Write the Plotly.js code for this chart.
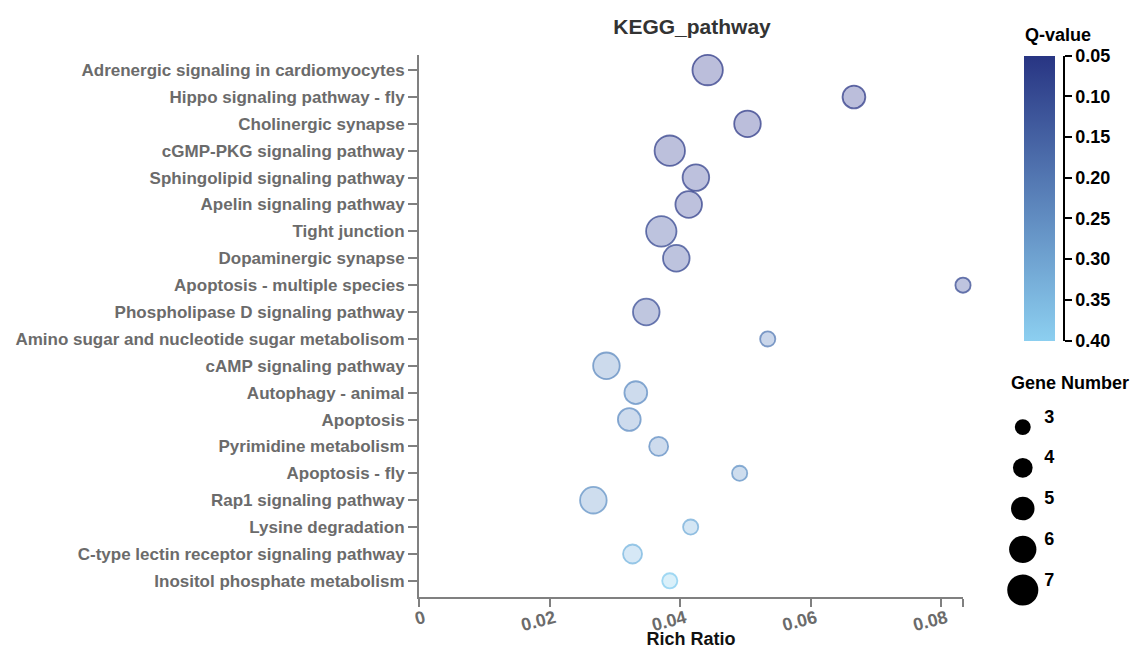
<!DOCTYPE html>
<html>
<head>
<meta charset="utf-8">
<script src="https://cdn.plot.ly/plotly-3.0.1.min.js"></script>
<style>html,body{margin:0;padding:0;background:#fff;}#chart{width:1134px;height:649px;}</style>
</head>
<body>
<div id="chart"></div>
<script>
const categories = [
  "Adrenergic signaling in cardiomyocytes",
  "Hippo signaling pathway - fly",
  "Cholinergic synapse",
  "cGMP-PKG signaling pathway",
  "Sphingolipid signaling pathway",
  "Apelin signaling pathway",
  "Tight junction",
  "Dopaminergic synapse",
  "Apoptosis - multiple species",
  "Phospholipase D signaling pathway",
  "Amino sugar and nucleotide sugar metabolisom",
  "cAMP signaling pathway",
  "Autophagy - animal",
  "Apoptosis",
  "Pyrimidine metabolism",
  "Apoptosis - fly",
  "Rap1 signaling pathway",
  "Lysine degradation",
  "C-type lectin receptor signaling pathway",
  "Inositol phosphate metabolism"
];
const richRatio = [0.0442, 0.0666, 0.0503, 0.0384, 0.0424, 0.0413, 0.0371, 0.0394, 0.0833, 0.0348,
                   0.0534, 0.0287, 0.0332, 0.0322, 0.0367, 0.0491, 0.0267, 0.0416, 0.0327, 0.0384];
const geneNumber = [7, 5, 6, 7, 6, 6, 7, 6, 3, 6, 3, 6, 5, 5, 4, 3, 6, 3, 4, 3];
const qValue = [0.06, 0.06, 0.06, 0.07, 0.08, 0.08, 0.09, 0.09, 0.10, 0.11,
                0.22, 0.25, 0.26, 0.26, 0.26, 0.27, 0.27, 0.33, 0.35, 0.40];

const xRangeMax = 0.0833;
const xTickVals = [0, 0.02, 0.04, 0.06, 0.08, xRangeMax];
const xTickText = ["0", "0.02", "0.04", "0.06", "0.08", ""];
const qTickVals = [0.05, 0.10, 0.15, 0.20, 0.25, 0.30, 0.35, 0.40];
const qTickText = ["0.05", "0.10", "0.15", "0.20", "0.25", "0.30", "0.35", "0.40"];
const geneLegend = [3, 4, 5, 6, 7];

const qMin = 0.05, qMax = 0.40;
const W = 1134, H = 649;
const px = v => v / W;
const py = v => (H - v) / H;

const FONT = "Liberation Sans, Arial, Helvetica, sans-serif";
const GRAY = "#6b6b6b";

function sizeOf(n) { return 3.8 * n + 3.8; }
function legendSizeOf(n) { return 3.8 * n + 4.5; }

const mainTrace = {
  type: "scatter",
  mode: "markers",
  x: richRatio,
  y: categories,
  cliponaxis: false,
  hoverinfo: "x+y+text",
  text: geneNumber.map((g, i) => "Gene Number: " + g + "<br>Q-value: " + qValue[i]),
  marker: {
    opacity: 1,
    size: geneNumber.map(sizeOf),
    sizemode: "diameter",
    color: qValue,
    cmin: qMin, cmax: qMax,
    colorscale: [[0, "rgba(40,50,140,0.32)"], [1, "rgba(140,207,240,0.32)"]],
    showscale: false,
    line: {
      width: 1.8,
      color: qValue,
      cmin: qMin, cmax: qMax,
      colorscale: [[0, "rgba(40,50,130,0.72)"], [1, "rgba(140,207,240,0.8)"]]
    }
  },
  showlegend: false
};

// colour bar (same Q-value range, darkest at the top)
const colorbarTrace = {
  type: "scatter",
  mode: "markers",
  x: [null, null],
  y: [null, null],
  xaxis: "x2", yaxis: "y2",
  hoverinfo: "skip",
  showlegend: false,
  marker: {
    color: [-qMax, -qMin],
    cmin: -qMax, cmax: -qMin,
    colorscale: [[0, "rgb(140,207,240)"], [1, "rgb(40,53,131)"]],
    showscale: true,
    colorbar: {
      x: px(1024), xanchor: "left", xpad: 0,
      y: py(55.5), yanchor: "top", ypad: 0,
      len: 285, lenmode: "pixels",
      thickness: 31,
      outlinewidth: 0,
      ticks: "", showticklabels: false
    }
  }
};

const legendCircles = {
  type: "scatter",
  mode: "markers",
  x: geneLegend.map(() => 0.17),
  y: geneLegend,
  xaxis: "x3", yaxis: "y3",
  hoverinfo: "skip",
  showlegend: false,
  cliponaxis: false,
  marker: { opacity: 1, size: geneLegend.map(legendSizeOf), color: "rgb(0,0,0)", line: { width: 0 } }
};
const legendLabels = {
  type: "scatter",
  mode: "text",
  x: geneLegend.map(() => 0.33),
  y: geneLegend,
  text: geneLegend.map(String),
  textposition: "top right",
  xaxis: "x3", yaxis: "y3",
  hoverinfo: "skip",
  showlegend: false,
  cliponaxis: false,
  textfont: { family: FONT, size: 18, color: "#000000", weight: "bold" }
};

const layout = {
  width: W, height: H,
  margin: { l: 0, r: 0, t: 0, b: 0 },
  paper_bgcolor: "#ffffff",
  plot_bgcolor: "#ffffff",
  font: { family: FONT },
  title: {
    text: "KEGG_pathway",
    x: px(692), xanchor: "center", xref: "paper",
    y: py(27), yanchor: "middle", yref: "paper",
    font: { family: FONT, size: 21, color: "#333333", weight: "bold" }
  },
  xaxis: {
    domain: [px(419), px(963)],
    range: [0, xRangeMax],
    tickmode: "array",
    tickvals: xTickVals, ticktext: xTickText,
    tickangle: -15,
    ticklabelshift: 5,
    ticklabelstandoff: -6,
    ticks: "outside", ticklen: 8, tickwidth: 1.5, tickcolor: "#808080",
    showline: true, linecolor: "#808080", linewidth: 2,
    showgrid: false, zeroline: false,
    tickfont: { family: FONT, size: 18, color: GRAY, weight: "bold" },
    title: { text: "Rich Ratio", standoff: 12, font: { family: FONT, size: 18, color: "#111111", weight: "bold" } },
    automargin: false,
    anchor: "y"
  },
  yaxis: {
    domain: [py(597), py(55)],
    type: "category",
    categoryorder: "array", categoryarray: categories,
    range: [19.6, -0.56],
    ticks: "outside", ticklen: 9, tickwidth: 1.5, tickcolor: "#808080",
    showline: true, linecolor: "#808080", linewidth: 2,
    showgrid: false, zeroline: false,
    tickfont: { family: FONT, size: 17, color: GRAY, weight: "bold" },
    automargin: false,
    anchor: "x"
  },
  xaxis2: { domain: [px(1040), px(1063)], range: [0, 1], visible: false, anchor: "y2", fixedrange: true },
  yaxis2: {
    domain: [py(340.5), py(55.5)],
    anchor: "x2", side: "right",
    range: [qMax, qMin],
    tickvals: qTickVals, ticktext: qTickText,
    ticks: "outside", ticklen: 7, tickwidth: 1.5, tickcolor: "#000000",
    showline: true, linecolor: "#000000", linewidth: 1.5,
    showgrid: false, zeroline: false,
    tickfont: { family: FONT, size: 18, color: "#000000", weight: "bold" },
    fixedrange: true
  },
  xaxis3: { domain: [px(1000), px(1134)], range: [0, 1], visible: false, anchor: "y3", fixedrange: true },
  yaxis3: { domain: [py(610), py(410)], range: [7.49, 2.58], visible: false, anchor: "x3", fixedrange: true },
  annotations: [
    {
      text: "Q-value", xref: "paper", yref: "paper",
      x: px(1058), y: py(35), xanchor: "center", yanchor: "middle", showarrow: false,
      font: { family: FONT, size: 18, color: "#000000", weight: "bold" }
    },
    {
      text: "Gene Number", xref: "paper", yref: "paper",
      x: px(1070), y: py(383), xanchor: "center", yanchor: "middle", showarrow: false,
      font: { family: FONT, size: 18, color: "#000000", weight: "bold" }
    }
  ]
};

Plotly.newPlot("chart", [mainTrace, colorbarTrace, legendCircles, legendLabels], layout, { displayModeBar: false });
</script>
</body>
</html>
